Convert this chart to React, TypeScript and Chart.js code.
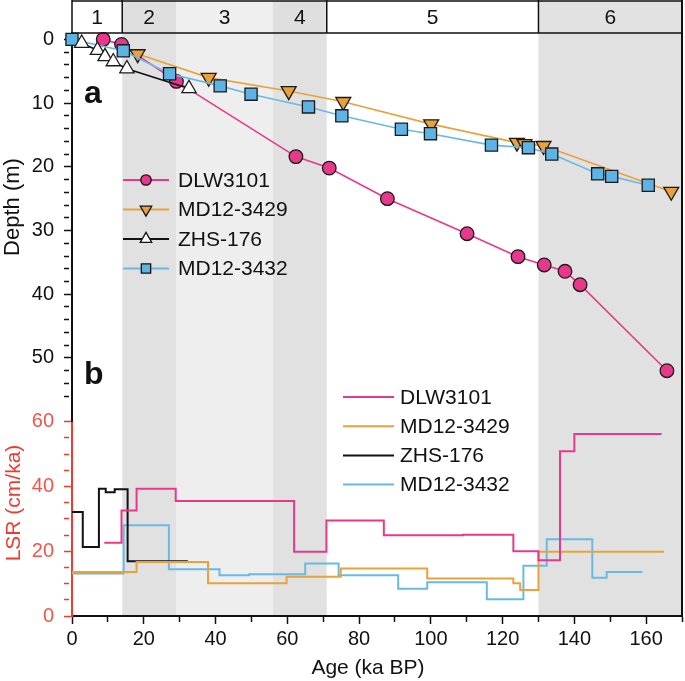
import React, { useEffect, useRef } from 'react';
import { Chart, registerables } from 'chart.js';
import { drawPoint } from 'chart.js/helpers';

Chart.register(...registerables);

// ---------------- data ----------------
const SERIES_NAMES = ['DLW3101', 'MD12-3429', 'ZHS-176', 'MD12-3432'];

// (a) age (ka BP) vs depth (m)
const DLW_AGE = [8.7, 13.8, 29.1, 62.4, 71.7, 87.9, 110.1, 124.3, 131.6, 137.4, 141.6, 165.8];
const DLW_DEPTH = [0, 0.8, 6.6, 18.4, 20.2, 25.0, 30.5, 34.1, 35.4, 36.4, 38.5, 52.0];

const MD29_AGE = [18.3, 38.1, 60.4, 75.6, 100.1, 124.0, 126.1, 131.4, 167.0];
const MD29_DEPTH = [2.3, 6.0, 8.1, 9.8, 13.3, 16.2, 16.4, 16.7, 23.9];

const ZHS_AGE = [2.7, 7.1, 9.2, 11.5, 15.3, 32.6];
const ZHS_DEPTH = [0.6, 1.7, 2.7, 3.5, 4.6, 7.7];

const MD32_AGE = [0, 14.3, 27.2, 41.3, 49.9, 65.9, 75.2, 91.8, 99.9, 116.9, 127.2, 133.7, 146.5, 150.4, 160.6];
const MD32_DEPTH = [0, 1.8, 5.4, 7.3, 8.6, 10.6, 12.0, 14.1, 14.8, 16.6, 17.0, 18.0, 21.1, 21.5, 22.9];

// (b) linear sedimentation rate (cm/ka): each value holds from its age to the next age
const DLW_LSR_AGE = [9.0, 13.8, 18.0, 28.9, 61.9, 70.9, 86.9, 109.0, 123.0, 130.0, 136.0, 140.0, 164.3];
const DLW_LSR = [22.6, 32.6, 39.3, 35.5, 19.8, 29.5, 24.9, 25.1, 20.0, 17.2, 50.9, 56.2, 56.2];

const MD29_LSR_AGE = [0, 18.0, 37.9, 59.8, 74.9, 99.0, 123.0, 124.9, 130.0, 165.0];
const MD29_LSR = [13.6, 16.7, 10.1, 12.1, 14.7, 11.6, 10.1, 8.0, 19.8, 19.8];

const ZHS_LSR_AGE = [0, 3.0, 7.5, 9.4, 11.9, 15.5, 32.3];
const ZHS_LSR = [32.1, 21.3, 39.3, 38.2, 39.1, 16.9, 16.9];

const MD32_LSR_AGE = [0, 14.4, 27.0, 41.1, 49.4, 65.0, 74.3, 90.9, 99.0, 115.6, 125.8, 132.3, 145.0, 149.0, 159.0];
const MD32_LSR = [13.1, 28.0, 14.4, 12.6, 12.9, 16.2, 12.6, 8.4, 10.4, 5.2, 15.5, 23.7, 11.8, 13.6, 13.6];

// marine isotope stages
const MIS_LABELS = ['1', '2', '3', '4', '5', '6'];
const MIS_BOUNDS = [0, 14, 29, 56, 71, 130, 170];
const MIS_DIVIDERS = [14, 71, 130];

// axis ticks
const AGE_TICKS = [0, 10, 20, 30, 40, 50, 60, 70, 80, 90, 100, 110, 120, 130, 140, 150, 160, 170];
const AGE_LABELS = [0, 20, 40, 60, 80, 100, 120, 140, 160];
const DEPTH_TICKS = [0, 2, 4, 6, 8, 10, 12, 14, 16, 18, 20, 22, 24, 26, 28, 30, 32, 34, 36, 38, 40, 42, 44, 46, 48, 50, 52, 54, 56];
const DEPTH_LABELS = [0, 10, 20, 30, 40, 50];
const LSR_TICKS = [0, 5, 10, 15, 20, 25, 30, 35, 40, 45, 50, 55, 60];
const LSR_LABELS = [0, 20, 40, 60];

// ---------------- styles ----------------
const FONT = "'Liberation Sans', Arial, Helvetica, sans-serif";
const PINK = '#e8388c';
const ORANGE = '#e9a23b';
const BLUE = '#5cb3e4';
const BLUE_LINE = '#6ab9e2';
const BLACK = '#111111';
const RED = '#ee3b30';
const RED_TEXT = '#f0564c';
const SHADE_PLOT = ['rgba(0,0,0,0)', '#e1e1e1', '#eeeeee', '#e1e1e1', 'rgba(0,0,0,0)', '#e1e1e1'];
const SHADE_BOX = ['#ffffff', '#dfdfdf', '#efefef', '#dfdfdf', '#ffffff', '#e2e2e2'];

const pts = (xs: number[], ys: number[]) => xs.map((x, i) => ({ x, y: ys[i] }));

const markerStyles = [
  { pointStyle: 'circle', rotation: 0, fill: PINK, line: PINK, radius: 6.8, lr: 5.2 },
  { pointStyle: 'triangle', rotation: 180, fill: ORANGE, line: ORANGE, radius: 8.6, lr: 6.6 },
  { pointStyle: 'triangle', rotation: 0, fill: '#ffffff', line: BLACK, radius: 8.2, lr: 6.6 },
  { pointStyle: 'rect', rotation: 0, fill: BLUE, line: BLUE_LINE, radius: 8.6, lr: 6.6 },
];

const decorPlugin = {
  id: 'decor',
  beforeDraw(chart: any) {
    const { ctx, chartArea, scales } = chart;
    const x = scales.x;
    ctx.save();
    for (let i = 0; i < MIS_LABELS.length; i++) {
      const x0 = x.getPixelForValue(MIS_BOUNDS[i]);
      const x1 = x.getPixelForValue(MIS_BOUNDS[i + 1]);
      ctx.fillStyle = SHADE_PLOT[i];
      ctx.fillRect(x0, chartArea.top, x1 - x0, chartArea.bottom - chartArea.top);
      ctx.fillStyle = SHADE_BOX[i];
      ctx.fillRect(x0, 1, x1 - x0, chartArea.top - 1);
    }
    ctx.restore();
  },
  afterDraw(chart: any) {
    const { ctx, chartArea, scales } = chart;
    const x = scales.x;
    ctx.save();
    // stage box
    ctx.strokeStyle = BLACK;
    ctx.lineWidth = 1.5;
    ctx.beginPath();
    ctx.moveTo(chartArea.left, 1);
    ctx.lineTo(chartArea.right, 1);
    ctx.moveTo(chartArea.left, chartArea.top);
    ctx.lineTo(chartArea.right, chartArea.top);
    ctx.moveTo(chartArea.left, 0);
    ctx.lineTo(chartArea.left, chartArea.top);
    for (const d of MIS_DIVIDERS) {
      const px = x.getPixelForValue(d);
      ctx.moveTo(px, 0);
      ctx.lineTo(px, chartArea.top);
    }
    ctx.stroke();
    ctx.lineWidth = 2;
    ctx.beginPath();
    ctx.moveTo(chartArea.right, 0);
    ctx.lineTo(chartArea.right, chartArea.bottom);
    ctx.stroke();

    ctx.fillStyle = BLACK;
    ctx.font = `21px ${FONT}`;
    ctx.textAlign = 'center';
    ctx.textBaseline = 'middle';
    for (let i = 0; i < MIS_LABELS.length; i++) {
      const x0 = x.getPixelForValue(MIS_BOUNDS[i]);
      const x1 = x.getPixelForValue(MIS_BOUNDS[i + 1]);
      ctx.fillText(MIS_LABELS[i], (x0 + x1) / 2, (chartArea.top + 1) / 2 + 1);
    }

    // panel letters
    ctx.font = `bold 32px ${FONT}`;
    ctx.textAlign = 'left';
    ctx.textBaseline = 'alphabetic';
    ctx.fillText('a', 84, 103);
    ctx.fillText('b', 84, 384);

    // axis titles
    ctx.font = `21px ${FONT}`;
    ctx.textAlign = 'center';
    ctx.textBaseline = 'middle';
    ctx.fillText('Age (ka BP)', 368, 668);
    ctx.save();
    ctx.translate(13, 207);
    ctx.rotate(-Math.PI / 2);
    ctx.font = `22px ${FONT}`;
    ctx.fillText('Depth (m)', 0, 0);
    ctx.restore();
    ctx.save();
    ctx.fillStyle = RED;
    ctx.translate(14, 503);
    ctx.rotate(-Math.PI / 2);
    ctx.fillText('LSR (cm/ka)', 0, 0);
    ctx.restore();

    // legend (a)
    ctx.font = `21px ${FONT}`;
    ctx.textAlign = 'left';
    ctx.textBaseline = 'middle';
    for (let i = 0; i < 4; i++) {
      const ds = chart.data.datasets[i];
      const m = markerStyles[i];
      const y = 180 + i * 29.5;
      ctx.strokeStyle = ds.borderColor;
      ctx.lineWidth = 2;
      ctx.beginPath();
      ctx.moveTo(123, y);
      ctx.lineTo(169, y);
      ctx.stroke();
      ctx.fillStyle = m.fill;
      ctx.strokeStyle = BLACK;
      ctx.lineWidth = 1.3;
      drawPoint(ctx, { pointStyle: m.pointStyle, rotation: m.rotation, radius: m.lr, borderWidth: 1.3 } as any, 146, y);
      ctx.fillStyle = BLACK;
      ctx.fillText(ds.label, 178, y + 1);
    }
    // legend (b)
    for (let i = 0; i < 4; i++) {
      const ds = chart.data.datasets[4 + i];
      const y = 397 + i * 29.2;
      ctx.strokeStyle = ds.borderColor;
      ctx.lineWidth = 2;
      ctx.beginPath();
      ctx.moveTo(343, y);
      ctx.lineTo(394, y);
      ctx.stroke();
      ctx.fillStyle = BLACK;
      ctx.fillText(ds.label, 400, y + 1);
    }
    ctx.restore();
  },
};

const majorDash = (labels: number[]) => (c: any) =>
  c.tick && labels.includes(c.tick.value) ? [] : [5, 60];

export default function App() {
  const ref = useRef<HTMLCanvasElement | null>(null);

  useEffect(() => {
    if (!ref.current) return;
    const depthSets = [
      { xs: DLW_AGE, ys: DLW_DEPTH, order: 4 },
      { xs: MD29_AGE, ys: MD29_DEPTH, order: 3 },
      { xs: ZHS_AGE, ys: ZHS_DEPTH, order: 1 },
      { xs: MD32_AGE, ys: MD32_DEPTH, order: 2 },
    ].map((s, i) => {
      const m = markerStyles[i];
      return {
        label: SERIES_NAMES[i],
        data: pts(s.xs, s.ys),
        xAxisID: 'x',
        yAxisID: 'yd',
        borderColor: m.line,
        borderWidth: 1.6,
        pointStyle: m.pointStyle,
        pointRotation: m.rotation,
        pointRadius: m.radius,
        pointBackgroundColor: m.fill,
        pointBorderColor: '#1a1a1a',
        pointBorderWidth: 1.3,
        clip: false,
        order: s.order,
      };
    });
    const lsrSets = [
      { xs: DLW_LSR_AGE, ys: DLW_LSR, c: PINK },
      { xs: MD29_LSR_AGE, ys: MD29_LSR, c: ORANGE },
      { xs: ZHS_LSR_AGE, ys: ZHS_LSR, c: BLACK },
      { xs: MD32_LSR_AGE, ys: MD32_LSR, c: BLUE_LINE },
    ].map((s, i) => ({
      label: SERIES_NAMES[i],
      data: pts(s.xs, s.ys),
      xAxisID: 'x',
      yAxisID: 'yl',
      borderColor: s.c,
      borderWidth: 2,
      stepped: 'before',
      pointRadius: 0,
      clip: false,
      order: 5,
    }));

    const tickFont = { family: FONT, size: 20 };

    const chart = new Chart(ref.current, {
      type: 'line',
      data: { datasets: [...depthSets, ...lsrSets] as any },
      plugins: [decorPlugin],
      options: {
        animation: false,
        responsive: false,
        devicePixelRatio: 1,
        layout: { autoPadding: false, padding: { top: 33, right: 1, left: 0, bottom: 0 } },
        plugins: { legend: { display: false }, tooltip: { enabled: false }, title: { display: false } },
        scales: {
          x: {
            type: 'linear',
            position: 'bottom',
            min: 0,
            max: 170,
            afterBuildTicks: (s: any) => { s.ticks = AGE_TICKS.map((v) => ({ value: v })); },
            afterFit: (s: any) => { s.height = 65; },
            ticks: {
              autoSkip: false,
              maxRotation: 0,
              padding: 3,
              color: BLACK,
              font: tickFont,
              callback: (v: any) => (AGE_LABELS.includes(Number(v)) ? String(v) : ''),
            },
            grid: {
              drawOnChartArea: false,
              tickLength: 8,
              tickWidth: 1.5,
              tickColor: BLACK,
              tickBorderDash: majorDash(AGE_LABELS),
            },
            border: { color: BLACK, width: 2 },
          },
          yl: {
            type: 'linear',
            position: 'left',
            stack: 'left',
            stackWeight: 1,
            min: 0,
            max: 60,
            afterBuildTicks: (s: any) => { s.ticks = LSR_TICKS.map((v) => ({ value: v })); },
            afterFit: (s: any) => { s.width = 72; },
            ticks: {
              autoSkip: false,
              padding: 10,
              color: RED_TEXT,
              font: tickFont,
              callback: (v: any) => (LSR_LABELS.includes(Number(v)) ? String(v) : ''),
            },
            grid: {
              drawOnChartArea: false,
              tickLength: 8,
              tickWidth: 1.5,
              tickColor: RED,
              tickBorderDash: majorDash(LSR_LABELS),
            },
            border: { color: RED, width: 2 },
          },
          yd: {
            type: 'linear',
            position: 'left',
            stack: 'left',
            stackWeight: 2,
            reverse: true,
            min: -1,
            max: 60,
            afterBuildTicks: (s: any) => { s.ticks = DEPTH_TICKS.map((v) => ({ value: v })); },
            afterFit: (s: any) => { s.width = 72; },
            ticks: {
              autoSkip: false,
              padding: 10,
              color: BLACK,
              font: tickFont,
              callback: (v: any) => (DEPTH_LABELS.includes(Number(v)) ? String(v) : ''),
            },
            grid: {
              drawOnChartArea: false,
              tickLength: 8,
              tickWidth: 1.5,
              tickColor: BLACK,
              tickBorderDash: majorDash(DEPTH_LABELS),
            },
            border: { color: BLACK, width: 2 },
          },
        },
      } as any,
    });
    return () => chart.destroy();
  }, []);

  return (
    <div style={{ position: 'fixed', left: 0, top: 0, width: 685, height: 681, background: '#ffffff' }}>
      <canvas ref={ref} width={685} height={681} style={{ width: 685, height: 681, display: 'block' }} />
    </div>
  );
}
